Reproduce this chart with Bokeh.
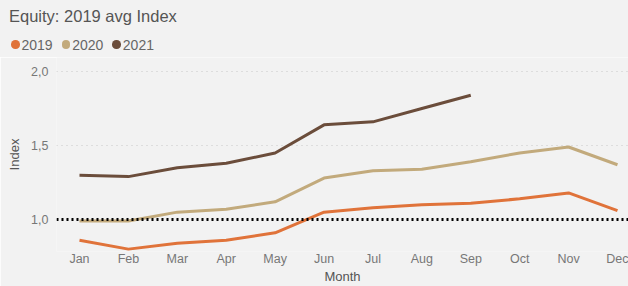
from bokeh.plotting import figure
from bokeh.layouts import column
from bokeh.models import (ColumnDataSource, FixedTicker, CustomJSTickFormatter,
                          Span, Range1d, Div)
from bokeh.embed import file_html
from bokeh.resources import INLINE

months = ["Jan", "Feb", "Mar", "Apr", "May", "Jun", "Jul", "Aug", "Sep", "Oct", "Nov", "Dec"]
idx_2019 = [0.86, 0.80, 0.84, 0.86, 0.91, 1.05, 1.08, 1.10, 1.11, 1.14, 1.18, 1.06]
idx_2020 = [0.99, 0.99, 1.05, 1.07, 1.12, 1.28, 1.33, 1.34, 1.39, 1.45, 1.49, 1.37]
idx_2021 = [1.30, 1.29, 1.35, 1.38, 1.45, 1.64, 1.66, 1.75, 1.84]
series_names = ["2019", "2020", "2021"]
colors = ["#E0733A", "#C2AA7C", "#6B4D3B"]
reference_value = 1.0
y_ticks = [1.0, 1.5, 2.0]
title_text = "Equity: 2019 avg Index"

FONT = "Liberation Sans"
BG = "#f2f2f2"
W = 628
HEAD_H = 57
MAIN_H = 229

# ---- header: title + legend ----
legend_html = "".join(
    f"<span style='display:inline-block;width:8.5px;height:8.5px;border-radius:50%;"
    f"background:{c};margin-right:2px;vertical-align:middle;position:relative;top:-1px'></span>"
    f"<span style='margin-right:9px;vertical-align:middle'>{n}</span>"
    for n, c in zip(series_names, colors))
head_html = (
    f"<div style='width:{W}px;height:{HEAD_H}px;background:{BG};font-family:\"{FONT}\";"
    f"box-sizing:border-box;padding:6px 0 0 9px;'>"
    f"<div style='font-size:16.5px;color:#555555;line-height:20px;white-space:nowrap'>{title_text}</div>"
    f"<div style='font-size:14px;color:#666666;line-height:16px;margin-top:10px;"
    f"padding-left:2px;white-space:nowrap'>{legend_html}</div>"
    f"</div>")
head = Div(text=head_html, width=W, height=HEAD_H, margin=0)

# ---- main chart ----
p = figure(width=W, height=MAIN_H, output_backend="svg", toolbar_location=None,
           x_range=Range1d(-0.470, 11.225), y_range=Range1d(0.784, 2.095),
           min_border_left=56, min_border_right=0, min_border_top=0, min_border_bottom=35,
           background_fill_color=BG, border_fill_color=BG, outline_line_color=None,
           margin=0)

p.xgrid.grid_line_color = None
p.ygrid.ticker = FixedTicker(ticks=y_ticks)
p.ygrid.grid_line_color = "#c8c8c8"
p.ygrid.grid_line_dash = "1 4"
p.ygrid.grid_line_width = 1

p.xaxis.ticker = FixedTicker(ticks=list(range(len(months))))
p.xaxis.major_label_overrides = {i: m for i, m in enumerate(months)}
p.yaxis.ticker = FixedTicker(ticks=y_ticks)
p.yaxis.formatter = CustomJSTickFormatter(code="return tick.toFixed(1).replace('.', ',');")
for ax in (p.xaxis[0], p.yaxis[0]):
    ax.axis_line_color = None
    ax.major_tick_line_color = None
    ax.minor_tick_line_color = None
    ax.major_tick_out = 0
    ax.major_tick_in = 0
    ax.major_label_text_font = FONT
    ax.major_label_text_font_size = "12.5px"
    ax.major_label_text_color = "#777777"
    ax.axis_label_text_font = FONT
    ax.axis_label_text_font_size = "13px"
    ax.axis_label_text_font_style = "normal"
    ax.axis_label_text_color = "#555555"
p.xaxis.axis_label = "Month"
p.yaxis.axis_label = "Index"
p.xaxis.major_label_standoff = 0
p.xaxis.axis_label_standoff = 0
p.yaxis.major_label_standoff = 8
p.yaxis.axis_label_standoff = 6

p.add_layout(Span(location=reference_value, dimension="width", line_color="black",
                  line_width=3, line_dash="2 3"))

for vals, c in zip([idx_2019, idx_2020, idx_2021], colors):
    src = ColumnDataSource(dict(x=list(range(len(vals))), y=vals))
    p.line("x", "y", source=src, line_color=c, line_width=3)

layout = column(head, p, spacing=0)
open("out.html", "w").write(file_html(layout, INLINE))
